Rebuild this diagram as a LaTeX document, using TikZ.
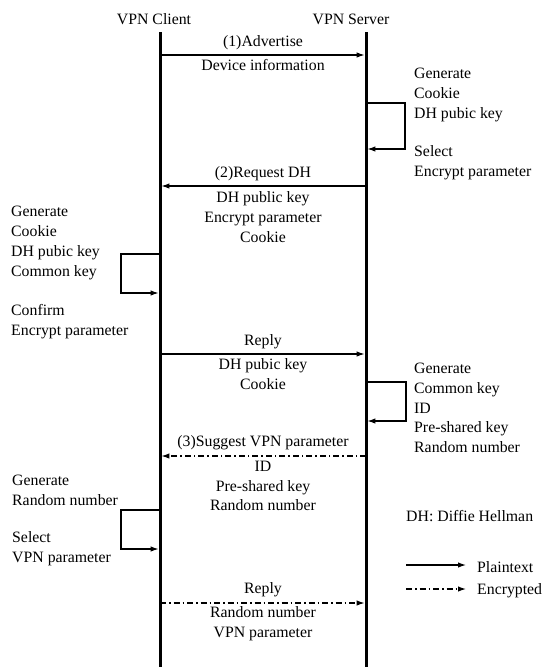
\documentclass[tikz,border=0pt]{standalone}
\usepackage{fontspec}
\setmainfont{Liberation Serif}
\usetikzlibrary{arrows.meta}
\begin{document}
\begin{tikzpicture}[x=1pt,y=-1pt,
  txt/.style={font=\fontsize{15.8}{19.8}\selectfont, inner sep=0pt, text=black},
  ltxt/.style={txt, anchor=west, align=left},
  ctxt/.style={txt, anchor=center, align=center},
  lifeline/.style={line width=3pt},
  msg/.style={line width=1.2pt, -{Latex[length=8pt,width=5.5pt]}, shorten >=1.4pt},
  enc/.style={msg, dash pattern=on 6pt off 3pt on 1.5pt off 3pt},
  loopline/.style={line width=1.2pt, -{Latex[length=8pt,width=5.5pt]}, shorten >=1.4pt}
]
\useasboundingbox (0,0) rectangle (544,667);

% headers
\node[ctxt] (hc) at (154,19) {VPN Client};
\node[ctxt] (hs) at (351,19) {VPN Server};

% lifelines
\coordinate (ctop) at (160,32);
\coordinate (cbot) at (160,667);
\coordinate (stop) at (366,32);
\coordinate (sbot) at (366,667);
\draw[lifeline] (ctop) -- (cbot);
\draw[lifeline] (stop) -- (sbot);

% message 1
\coordinate (c1) at (160,55);
\coordinate (s1) at (366,55);
\draw[msg] (c1) -- (s1);
\node[ctxt] (m1a) at (263,43) {(1)Advertise};
\node[ctxt] (m1b) at (263,65) {Device information};

% server loop 1
\coordinate (sl1a) at (366,103);
\coordinate (sl1b) at (405,103);
\coordinate (sl1c) at (405,149);
\coordinate (sl1d) at (366,149);
\draw[loopline] (sl1a) -- (sl1b) -- (sl1c) -- (sl1d);
\node[ltxt] (st1) at (414,95) {Generate\\Cookie\\DH pubic key};
\node[ltxt] (st2) at (414,163) {Select\\Encrypt parameter};

% message 2
\coordinate (s2) at (366,186);
\coordinate (c2) at (160,186);
\draw[msg] (s2) -- (c2);
\node[ctxt] (m2a) at (263,174) {(2)Request DH};
\node[ctxt] (m2b) at (263,217) {DH public key\\Encrypt parameter\\Cookie};

% client loop 1
\coordinate (cl1a) at (160,254);
\coordinate (cl1b) at (121,254);
\coordinate (cl1c) at (121,293);
\coordinate (cl1d) at (160,293);
\draw[loopline] (cl1a) -- (cl1b) -- (cl1c) -- (cl1d);
\node[ltxt] (ct1) at (11,243) {Generate\\Cookie\\DH pubic key\\Common key};
\node[ltxt] (ct2) at (11,322) {Confirm\\Encrypt parameter};

% message 3 (reply)
\coordinate (c3) at (160,354);
\coordinate (s3) at (366,354);
\draw[msg] (c3) -- (s3);
\node[ctxt] (m3a) at (263,342) {Reply};
\node[ctxt] (m3b) at (263,374) {DH pubic key\\Cookie};

% server loop 2
\coordinate (sl2a) at (366,382);
\coordinate (sl2b) at (406,382);
\coordinate (sl2c) at (406,421);
\coordinate (sl2d) at (366,421);
\draw[loopline] (sl2a) -- (sl2b) -- (sl2c) -- (sl2d);
\node[ltxt] (st3) at (414,408) {Generate\\Common key\\ID\\Pre-shared key\\Random number};

% message 4 (encrypted)
\coordinate (s4) at (366,456);
\coordinate (c4) at (160,456);
\draw[enc] (s4) -- (c4);
\node[ctxt] (m4a) at (263,443) {(3)Suggest VPN parameter};
\node[ctxt] (m4b) at (263,486) {ID\\Pre-shared key\\Random number};

% client loop 2
\coordinate (cl2a) at (160,510);
\coordinate (cl2b) at (121,510);
\coordinate (cl2c) at (121,549);
\coordinate (cl2d) at (160,549);
\draw[loopline] (cl2a) -- (cl2b) -- (cl2c) -- (cl2d);
\node[ltxt] (ct3) at (12,490) {Generate\\Random number};
\node[ltxt] (ct4) at (12,549) {Select\\VPN parameter};

% message 5 (encrypted reply)
\coordinate (c5) at (160,603);
\coordinate (s5) at (366,603);
\draw[enc] (c5) -- (s5);
\node[ctxt] (m5a) at (263,590) {Reply};
\node[ctxt] (m5b) at (263,624) {Random number\\VPN parameter};

% legend
\node[ltxt] (dh) at (406,516) {DH: Diffie Hellman};
\coordinate (lg1a) at (406,565);
\coordinate (lg1b) at (466,565);
\draw[msg, shorten >=0pt] (lg1a) -- (lg1b);
\node[ltxt] (lgp) at (477,567) {Plaintext};
\coordinate (lg2a) at (406,589);
\coordinate (lg2b) at (466,589);
\draw[enc, shorten >=0pt] (lg2a) -- (lg2b);
\node[ltxt] (lge) at (477,591) {Encrypted};
\end{tikzpicture}
\end{document}
